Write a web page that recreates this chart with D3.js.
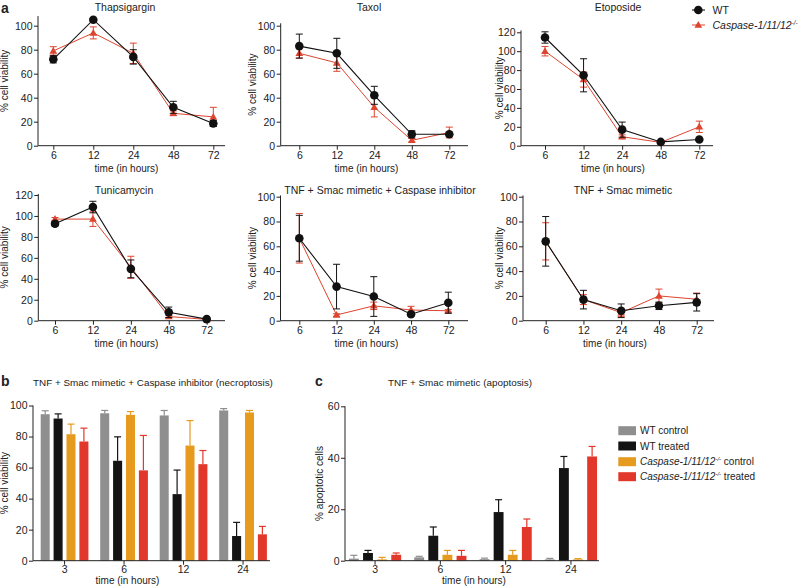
<!DOCTYPE html>
<html><head><meta charset="utf-8">
<script src="https://cdn.jsdelivr.net/npm/d3@7"></script>
<style>body{margin:0;background:#fff}svg{display:block;font-family:"Liberation Sans",Arial,Helvetica,sans-serif}</style>
</head><body><script>
// ---------- data ----------
const timeLabels = ["6", "12", "24", "48", "72"];
const ticks100 = [0, 20, 40, 60, 80, 100];
const ticks120 = [0, 20, 40, 60, 80, 100, 120];
const ticks60 = [0, 20, 40, 60];

const thapWT = [72, 105, 74, 32, 18.5];
const thapWTErr = [3, 1, 6, 5, 2.5];
const thapKO = [79, 94, 77, 27, 24];
const thapKOErr = [3.5, 5, 8.5, 2, 8];

const taxolWT = [83, 77, 42, 9.5, 9.5];
const taxolWTErr = [10, 12.5, 7.5, 3, 1.5];
const taxolKO = [77, 69, 32, 4.5, 11];
const taxolKOErr = [4, 7, 8, 1.5, 4.5];

const etoWT = [114.5, 74.5, 17, 4, 6.5];
const etoWTErr = [6, 17.5, 8, 1, 1];
const etoKO = [100, 70, 9.5, 3.5, 20];
const etoKOErr = [5, 8, 2, 1, 6];

const tuniWT = [92.5, 108.5, 49.5, 8, 1.5];
const tuniWTErr = [2, 5.5, 8.5, 5, 1];
const tuniKO = [97, 97, 51, 4, 1.2];
const tuniKOErr = [1.5, 7, 10.5, 1, 0.5];

const tscWT = [66.5, 27.5, 19.5, 5.2, 14.5];
const tscWTErr = [18.5, 18, 16, 1.5, 8.5];
const tscKO = [66.5, 4.6, 12, 8.6, 8];
const tscKOErr = [20, 1, 3, 3, 1];

const tsWT = [64, 17, 8, 12, 14.8];
const tsWTErr = [20, 7.5, 5.5, 3, 7];
const tsKO = [64, 17, 6.5, 20, 17.3];
const tsKOErr = [15, 4, 3, 5.5, 5];

const barGroups = ["3", "6", "12", "24"];
const seriesNames = ["WT control", "WT treated", "Caspase-1/11/12 control", "Caspase-1/11/12 treated"];

const necroWTctrl = [94.4, 95, 93.6, 96.8];
const necroWTctrlErr = [2.2, 1.8, 3.2, 1.2];
const necroWTtreat = [91.6, 64.4, 42.9, 15.9];
const necroWTtreatErr = [3, 15.4, 15.5, 8.8];
const necroKOctrl = [81.5, 94, 74.2, 95.5];
const necroKOctrlErr = [6.5, 2.1, 16.1, 1.3];
const necroKOtreat = [76.8, 58.2, 62.2, 17];
const necroKOtreatErr = [8.6, 22.5, 8.8, 5.1];

const apoWTctrl = [0.8, 1.3, 0.6, 0.5];
const apoWTctrlErr = [1.3, 0.4, 0.4, 0.4];
const apoWTtreat = [3.0, 9.7, 18.9, 36];
const apoWTtreatErr = [1.0, 3.4, 4.8, 4.5];
const apoKOctrl = [0.5, 2.3, 2.3, 0.5];
const apoKOctrlErr = [0.8, 1.7, 1.7, 0.3];
const apoKOtreat = [2.3, 1.9, 13.1, 40.5];
const apoKOtreatErr = [0.7, 2.1, 3.1, 3.9];

// ---------- styles ----------
const INK = "#222";
const RED_LINE = "#dd4530";
const barColors = ["#8f8f8f", "#141414", "#e69b1f", "#e2382b"];
const FONT = "Liberation Sans, Arial, Helvetica, sans-serif";

const svg = d3.select("body").append("svg").attr("width", 798).attr("height", 587);

function styleAxis(s, fs) {
  s.attr("font-family", FONT).attr("font-size", fs);
  s.selectAll(".tick line").attr("stroke", INK);
  s.selectAll(".tick text").attr("fill", INK);
  s.select(".domain").remove();
}

function text(g, x, y, str, opts = {}) {
  const t = g.append("text").attr("x", x).attr("y", y).text(str)
    .attr("font-size", opts.size || 10).attr("fill", INK)
    .attr("text-anchor", opts.anchor || "middle");
  if (opts.weight) t.attr("font-weight", opts.weight);
  if (opts.rotate) t.attr("transform", `rotate(-90,${x},${y})`);
  return t;
}

function caspaseLabel(g, x, y, suffix, size) {
  const t = g.append("text").attr("x", x).attr("y", y).attr("font-size", size).attr("fill", INK);
  t.append("tspan").attr("font-style", "italic").text("Caspase-1/11/12");
  t.append("tspan").attr("font-style", "italic").attr("font-size", size * 0.6).attr("dy", -4).text("-/-");
  if (suffix) t.append("tspan").attr("dy", 4).text(" " + suffix);
  return t;
}

function linePanel(o) {
  const g = svg.append("g");
  const x = d3.scalePoint().domain(timeLabels).range([o.x1, o.x2]);
  const y = d3.scaleLinear().domain([0, o.tMax]).range([o.y0, o.yT]);
  g.append("g").attr("transform", `translate(${o.ax},0)`)
    .call(d3.axisLeft(y).tickValues(o.ticks).tickSize(4).tickPadding(1.5))
    .call(s => styleAxis(s, 10.5));
  g.append("line").attr("x1", o.ax).attr("x2", o.ax).attr("y1", o.y0).attr("y2", y(o.axTop))
    .attr("stroke", INK);
  g.append("g").attr("transform", `translate(0,${o.y0})`)
    .call(d3.axisBottom(x).tickSize(4).tickPadding(2))
    .call(s => styleAxis(s, 10.5));
  g.append("line").attr("x1", o.ax).attr("x2", o.xEnd).attr("y1", o.y0).attr("y2", o.y0)
    .attr("stroke", INK);

  const series = [
    { v: o.ko, e: o.koErr, c: RED_LINE, m: "tri", w: 1 },
    { v: o.wt, e: o.wtErr, c: "#111", m: "circ", w: 1.1 }
  ];
  series.forEach(s => {
    const eg = g.append("g").attr("stroke", s.c).attr("stroke-width", 1);
    s.v.forEach((v, i) => {
      const cx = x(timeLabels[i]);
      const lo = y(Math.max(0, v - s.e[i])), hi = y(v + s.e[i]);
      eg.append("line").attr("x1", cx).attr("x2", cx).attr("y1", lo).attr("y2", hi);
      eg.append("line").attr("x1", cx - 3.5).attr("x2", cx + 3.5).attr("y1", lo).attr("y2", lo);
      eg.append("line").attr("x1", cx - 3.5).attr("x2", cx + 3.5).attr("y1", hi).attr("y2", hi);
    });
    g.append("path").datum(s.v)
      .attr("d", d3.line().x((d, i) => x(timeLabels[i])).y(d => y(d)))
      .attr("fill", "none").attr("stroke", s.c).attr("stroke-width", s.w);
    const sym = s.m === "tri" ? d3.symbol(d3.symbolTriangle, 26) : d3.symbol(d3.symbolCircle, 58);
    g.selectAll(null).data(s.v).join("path")
      .attr("transform", (d, i) => `translate(${x(timeLabels[i])},${y(d) + (s.m === "tri" ? 0.5 : 0)})`)
      .attr("d", sym).attr("fill", s.c);
  });

  text(g, o.tx, o.ty, o.title, { size: 10.5 });
  text(g, o.xlx, o.y0 + 26, "time (in hours)", { size: 10 });
  text(g, o.ylx, (o.y0 + y(o.axTop)) / 2, "% cell viability", { size: 10, rotate: true });
}

const rowA = { y0: 145.7 };
const rowB = { y0: 320.7 };

linePanel({ title: "Thapsigargin", wt: thapWT, wtErr: thapWTErr, ko: thapKO, koErr: thapKOErr,
  ax: 38, x1: 53.3, x2: 213.3, xEnd: 225, y0: rowA.y0, yT: 25.7, tMax: 100, axTop: 108, ticks: ticks100,
  tx: 125, ty: 10.5, xlx: 126.5, ylx: 8 });
linePanel({ title: "Taxol", wt: taxolWT, wtErr: taxolWTErr, ko: taxolKO, koErr: taxolKOErr,
  ax: 280.7, x1: 299.3, x2: 449.3, xEnd: 468, y0: rowA.y0, yT: 25.7, tMax: 100, axTop: 102, ticks: ticks100,
  tx: 369, ty: 10.5, xlx: 366.5, ylx: 256 });
linePanel({ title: "Etoposide", wt: etoWT, wtErr: etoWTErr, ko: etoKO, koErr: etoKOErr,
  ax: 521, x1: 545, x2: 699.3, xEnd: 713, y0: rowA.y0, yT: 32.3, tMax: 120, axTop: 122, ticks: ticks120,
  tx: 618, ty: 10.5, xlx: 613, ylx: 503 });

linePanel({ title: "Tunicamycin", wt: tuniWT, wtErr: tuniWTErr, ko: tuniKO, koErr: tuniKOErr,
  ax: 38.3, x1: 55, x2: 206.7, xEnd: 225, y0: rowB.y0, yT: 195, tMax: 120, axTop: 121, ticks: ticks120,
  tx: 124, ty: 193.5, xlx: 126.5, ylx: 8 });
linePanel({ title: "TNF + Smac mimetic + Caspase inhibitor", wt: tscWT, wtErr: tscWTErr, ko: tscKO, koErr: tscKOErr,
  ax: 280.5, x1: 299.3, x2: 448.3, xEnd: 468, y0: rowB.y0, yT: 196.7, tMax: 100, axTop: 101, ticks: ticks100,
  tx: 380, ty: 193.5, xlx: 366.5, ylx: 256 });
linePanel({ title: "TNF + Smac mimetic", wt: tsWT, wtErr: tsWTErr, ko: tsKO, koErr: tsKOErr,
  ax: 523, x1: 545.7, x2: 696.7, xEnd: 714, y0: rowB.y0, yT: 196.7, tMax: 100, axTop: 101, ticks: ticks100,
  tx: 623, ty: 193.5, xlx: 615, ylx: 503 });

// legend for panel a
{
  const g = svg.append("g");
  g.append("line").attr("x1", 692).attr("x2", 705).attr("y1", 10).attr("y2", 10).attr("stroke", "#111").attr("stroke-width", 1.1);
  g.append("path").attr("transform", "translate(698.3,10)").attr("d", d3.symbol(d3.symbolCircle, 58)()).attr("fill", "#111");
  text(g, 712.5, 13.8, "WT", { size: 10.5, anchor: "start" });
  g.append("line").attr("x1", 692).attr("x2", 705).attr("y1", 25).attr("y2", 25).attr("stroke", RED_LINE);
  g.append("path").attr("transform", "translate(698.3,25.5)").attr("d", d3.symbol(d3.symbolTriangle, 26)()).attr("fill", RED_LINE);
  caspaseLabel(g, 712.5, 28.8, null, 10.5);
}

// panel letters
text(svg, 1, 12.5, "a", { size: 14, weight: "bold", anchor: "start" });
text(svg, 1, 386, "b", { size: 14, weight: "bold", anchor: "start" });
text(svg, 315, 386, "c", { size: 14, weight: "bold", anchor: "start" });

function barPanel(o) {
  const g = svg.append("g");
  const x0 = d3.scaleBand().domain(barGroups).range(o.range).paddingInner(o.pi).paddingOuter(o.pi / 2);
  const x1 = d3.scaleBand().domain(d3.range(4)).range([0, x0.bandwidth()]).paddingInner(0.3).paddingOuter(0.15);
  const y = d3.scaleLinear().domain([0, o.tMax]).range([o.y0, o.yT]);
  g.append("g").attr("transform", `translate(${o.ax},0)`)
    .call(d3.axisLeft(y).tickValues(o.ticks).tickSize(4).tickPadding(1.5))
    .call(s => styleAxis(s, 10.5));
  g.append("line").attr("x1", o.ax).attr("x2", o.ax).attr("y1", o.y0).attr("y2", o.yT).attr("stroke", INK);

  o.series.forEach((s, k) => {
    const col = barColors[k];
    const sg = g.append("g");
    s.v.forEach((v, i) => {
      const bx = x0(barGroups[i]) + x1(k);
      const cx = bx + x1.bandwidth() / 2;
      const top = y(v + s.e[i]);
      sg.append("line").attr("x1", cx).attr("x2", cx).attr("y1", y(v)).attr("y2", top).attr("stroke", col).attr("stroke-width", 1.2);
      sg.append("line").attr("x1", cx - 3.5).attr("x2", cx + 3.5).attr("y1", top).attr("y2", top).attr("stroke", col).attr("stroke-width", 1.2);
      sg.append("rect").attr("x", bx).attr("y", y(v)).attr("width", x1.bandwidth()).attr("height", o.y0 - y(v)).attr("fill", col);
    });
  });

  g.append("g").attr("transform", `translate(0,${o.y0})`)
    .call(d3.axisBottom(x0).tickSize(4).tickPadding(1))
    .call(s => styleAxis(s, 10.5));
  g.append("line").attr("x1", o.ax).attr("x2", o.xEnd).attr("y1", o.y0).attr("y2", o.y0).attr("stroke", INK);

  text(g, o.tx, 386, o.title, { size: 9.9 });
  text(g, o.xlx, 583.5, "time (in hours)", { size: 10 });
  text(g, o.ylx, (o.y0 + o.yT) / 2, o.ylabel, { size: 10, rotate: true });
  return g;
}

barPanel({ title: "TNF + Smac mimetic + Caspase inhibitor (necroptosis)", ylabel: "% cell viability",
  series: [
    { v: necroWTctrl, e: necroWTctrlErr }, { v: necroWTtreat, e: necroWTtreatErr },
    { v: necroKOctrl, e: necroKOctrlErr }, { v: necroKOtreat, e: necroKOtreatErr }],
  range: [34.8, 272.8], pi: 0.133, ax: 33, xEnd: 270, y0: 560.7, yT: 405.5, tMax: 100, ticks: ticks100,
  tx: 153, xlx: 127.5, ylx: 8 });

barPanel({ title: "TNF + Smac mimetic (apoptosis)", ylabel: "% apoptotic cells",
  series: [
    { v: apoWTctrl, e: apoWTctrlErr }, { v: apoWTtreat, e: apoWTtreatErr },
    { v: apoKOctrl, e: apoKOctrlErr }, { v: apoKOtreat, e: apoKOtreatErr }],
  range: [342.4, 603.6], pi: 0.136, ax: 345, xEnd: 599, y0: 560.7, yT: 406.3, tMax: 60, ticks: ticks60,
  tx: 460, xlx: 474, ylx: 323 });

// legend for panel c
{
  const g = svg.append("g");
  const rows = [430.7, 446, 461.7, 476.7];
  seriesNames.forEach((nm, k) => {
    g.append("rect").attr("x", 618.3).attr("y", rows[k] - 4.5).attr("width", 17.7).attr("height", 9).attr("fill", barColors[k]);
    if (k < 2) text(g, 640, rows[k] + 3.6, nm, { size: 10, anchor: "start" });
    else caspaseLabel(g, 640, rows[k] + 3.6, nm.split(" ").pop(), 10);
  });
}
</script></body></html>
